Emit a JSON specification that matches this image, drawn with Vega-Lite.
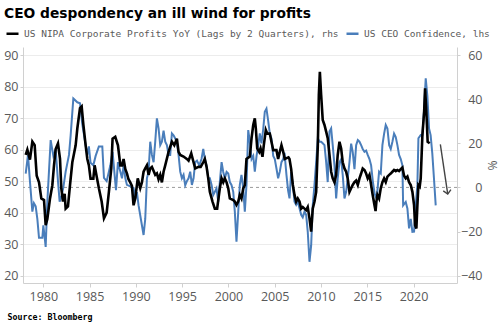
{
  "$schema": "https://vega.github.io/schema/vega-lite/v6.json",
  "width": 434,
  "height": 236,
  "autosize": {"type": "none"},
  "padding": {"left": 23, "top": 47, "right": 43, "bottom": 45},
  "background": "white",
  "title": {
    "text": "CEO despondency an ill wind for profits",
    "anchor": "start",
    "frame": "group",
    "font": "DejaVu Sans",
    "fontWeight": "bold",
    "fontSize": 13.8,
    "color": "#000000",
    "dx": -19,
    "offset": 5
  },
  "config": {
    "view": {"stroke": null},
    "axis": {
      "labelFont": "Open Sans",
      "labelFontSize": 12.5,
      "labelColor": "#595959",
      "domainColor": "#d0d0d0",
      "tickColor": "#d0d0d0",
      "gridColor": "#ececec",
      "titleFont": "Open Sans",
      "titleColor": "#595959",
      "titleFontWeight": "normal"
    },
    "legend": {
      "labelFont": "DejaVu Sans Mono",
      "labelFontSize": 9.5,
      "labelColor": "#595959",
      "labelLimit": 500
    }
  },
  "datasets": {
    "ceo": [
      {"t": 1978.09, "v": 52.4}, {"t": 1978.34, "v": 58.3}, {"t": 1978.55, "v": 50}, {"t": 1978.81, "v": 40.3},
      {"t": 1978.98, "v": 43}, {"t": 1979.17, "v": 42}, {"t": 1979.35, "v": 38}, {"t": 1979.53, "v": 32},
      {"t": 1979.89, "v": 32}, {"t": 1980.0, "v": 36}, {"t": 1980.25, "v": 29.1}, {"t": 1980.43, "v": 43.5},
      {"t": 1980.79, "v": 63}, {"t": 1981.08, "v": 58}, {"t": 1981.33, "v": 60}, {"t": 1981.58, "v": 50},
      {"t": 1981.76, "v": 43.5}, {"t": 1981.94, "v": 45}, {"t": 1982.16, "v": 48}, {"t": 1982.41, "v": 53},
      {"t": 1982.77, "v": 58.3}, {"t": 1982.95, "v": 64.5}, {"t": 1983.24, "v": 76.2}, {"t": 1983.67, "v": 75},
      {"t": 1983.96, "v": 74.7}, {"t": 1984.21, "v": 68}, {"t": 1984.57, "v": 61.4}, {"t": 1984.75, "v": 58.3},
      {"t": 1984.92, "v": 61}, {"t": 1985.1, "v": 55.8}, {"t": 1985.4, "v": 55}, {"t": 1985.65, "v": 58},
      {"t": 1986.0, "v": 61}, {"t": 1986.37, "v": 61}, {"t": 1986.55, "v": 51}, {"t": 1986.84, "v": 50},
      {"t": 1987.08, "v": 53}, {"t": 1987.24, "v": 55}, {"t": 1987.48, "v": 59.3}, {"t": 1987.7, "v": 52},
      {"t": 1987.85, "v": 47.1}, {"t": 1988.06, "v": 56}, {"t": 1988.32, "v": 53}, {"t": 1988.5, "v": 50.9},
      {"t": 1988.67, "v": 55}, {"t": 1988.86, "v": 50.9}, {"t": 1989.03, "v": 48.8}, {"t": 1989.39, "v": 48.3},
      {"t": 1989.75, "v": 47.8}, {"t": 1989.93, "v": 44.5}, {"t": 1990.11, "v": 46.5}, {"t": 1990.29, "v": 42.3},
      {"t": 1990.65, "v": 36}, {"t": 1990.83, "v": 32.9}, {"t": 1991.01, "v": 38}, {"t": 1991.19, "v": 50.9},
      {"t": 1991.37, "v": 53}, {"t": 1991.55, "v": 62.5}, {"t": 1991.73, "v": 58.3}, {"t": 1991.91, "v": 56},
      {"t": 1992.09, "v": 62.5}, {"t": 1992.27, "v": 69.9}, {"t": 1992.45, "v": 66.7}, {"t": 1992.63, "v": 61.4},
      {"t": 1992.81, "v": 62.5}, {"t": 1992.99, "v": 66}, {"t": 1993.17, "v": 62.5}, {"t": 1993.35, "v": 61.4},
      {"t": 1993.53, "v": 58.3}, {"t": 1993.71, "v": 58.3}, {"t": 1993.89, "v": 65.1}, {"t": 1994.07, "v": 64.5},
      {"t": 1994.25, "v": 63.5}, {"t": 1994.43, "v": 62.5}, {"t": 1994.61, "v": 58.3}, {"t": 1994.79, "v": 53},
      {"t": 1994.97, "v": 50.9}, {"t": 1995.15, "v": 52}, {"t": 1995.33, "v": 48.7}, {"t": 1995.51, "v": 50},
      {"t": 1995.69, "v": 50.9}, {"t": 1995.87, "v": 53}, {"t": 1996.05, "v": 48.8}, {"t": 1996.23, "v": 50.9},
      {"t": 1996.41, "v": 56}, {"t": 1996.6, "v": 56.5}, {"t": 1996.85, "v": 55}, {"t": 1997.09, "v": 57},
      {"t": 1997.28, "v": 60.2}, {"t": 1997.45, "v": 57}, {"t": 1997.64, "v": 55}, {"t": 1997.82, "v": 50.9},
      {"t": 1997.99, "v": 50.9}, {"t": 1998.18, "v": 48.8}, {"t": 1998.36, "v": 45.6}, {"t": 1998.53, "v": 46.6},
      {"t": 1998.71, "v": 47.7}, {"t": 1998.9, "v": 43.5}, {"t": 1999.07, "v": 49.7}, {"t": 1999.26, "v": 56},
      {"t": 1999.44, "v": 52.9}, {"t": 1999.61, "v": 50.9}, {"t": 1999.8, "v": 52.9}, {"t": 1999.98, "v": 52.4},
      {"t": 2000.15, "v": 49.7}, {"t": 2000.33, "v": 48.8}, {"t": 2000.52, "v": 46.6}, {"t": 2000.69, "v": 40.3},
      {"t": 2000.87, "v": 30.8}, {"t": 2001.06, "v": 40.3}, {"t": 2001.23, "v": 48.8}, {"t": 2001.41, "v": 52},
      {"t": 2001.6, "v": 47.7}, {"t": 2001.77, "v": 40.3}, {"t": 2001.95, "v": 48.8}, {"t": 2002.14, "v": 66.2},
      {"t": 2002.31, "v": 62.5}, {"t": 2002.5, "v": 57}, {"t": 2002.68, "v": 58}, {"t": 2002.85, "v": 53},
      {"t": 2003.04, "v": 58}, {"t": 2003.22, "v": 61.4}, {"t": 2003.39, "v": 65.1}, {"t": 2003.57, "v": 62},
      {"t": 2003.76, "v": 66.5}, {"t": 2003.93, "v": 72}, {"t": 2004.11, "v": 73}, {"t": 2004.3, "v": 69},
      {"t": 2004.47, "v": 65.1}, {"t": 2004.65, "v": 63.5}, {"t": 2004.84, "v": 58}, {"t": 2005.01, "v": 57},
      {"t": 2005.19, "v": 54}, {"t": 2005.37, "v": 50.9}, {"t": 2005.55, "v": 53}, {"t": 2005.73, "v": 56},
      {"t": 2005.92, "v": 57}, {"t": 2006.06, "v": 59}, {"t": 2006.27, "v": 52}, {"t": 2006.45, "v": 47},
      {"t": 2006.6, "v": 44.5}, {"t": 2006.78, "v": 52.9}, {"t": 2006.96, "v": 48.8}, {"t": 2007.14, "v": 43.5},
      {"t": 2007.32, "v": 42.5}, {"t": 2007.49, "v": 43.5}, {"t": 2007.68, "v": 41.4}, {"t": 2007.86, "v": 39.3},
      {"t": 2008.03, "v": 38.5}, {"t": 2008.22, "v": 40.3}, {"t": 2008.4, "v": 39.3}, {"t": 2008.57, "v": 34},
      {"t": 2008.76, "v": 24.4}, {"t": 2008.94, "v": 29.6}, {"t": 2009.11, "v": 42.3}, {"t": 2009.3, "v": 48.8},
      {"t": 2009.48, "v": 56}, {"t": 2009.66, "v": 63.6}, {"t": 2009.84, "v": 62.5}, {"t": 2010.02, "v": 62.5},
      {"t": 2010.19, "v": 62}, {"t": 2010.38, "v": 61.4}, {"t": 2010.56, "v": 56}, {"t": 2010.73, "v": 49.7},
      {"t": 2010.92, "v": 65.7}, {"t": 2011.1, "v": 66.7}, {"t": 2011.27, "v": 61.4}, {"t": 2011.46, "v": 54.9},
      {"t": 2011.64, "v": 44.5}, {"t": 2011.81, "v": 50.9}, {"t": 2012.0, "v": 56}, {"t": 2012.18, "v": 57},
      {"t": 2012.35, "v": 52}, {"t": 2012.54, "v": 44.5}, {"t": 2012.72, "v": 46.6}, {"t": 2012.89, "v": 50.9},
      {"t": 2013.08, "v": 56}, {"t": 2013.26, "v": 61.9}, {"t": 2013.43, "v": 59.3}, {"t": 2013.62, "v": 53.8},
      {"t": 2013.8, "v": 61.4}, {"t": 2013.98, "v": 63}, {"t": 2014.16, "v": 62.5}, {"t": 2014.34, "v": 61.4},
      {"t": 2014.51, "v": 60.2}, {"t": 2014.7, "v": 59.3}, {"t": 2014.88, "v": 59.7}, {"t": 2015.05, "v": 58.3},
      {"t": 2015.24, "v": 57}, {"t": 2015.42, "v": 55}, {"t": 2015.6, "v": 50}, {"t": 2015.8, "v": 46},
      {"t": 2016.0, "v": 44.5}, {"t": 2016.1, "v": 47}, {"t": 2016.28, "v": 53}, {"t": 2016.46, "v": 52.4},
      {"t": 2016.64, "v": 61.4}, {"t": 2016.82, "v": 65}, {"t": 2017.0, "v": 67.8}, {"t": 2017.18, "v": 66.7},
      {"t": 2017.37, "v": 61.4}, {"t": 2017.54, "v": 60.2}, {"t": 2017.72, "v": 62.5}, {"t": 2017.9, "v": 65.1},
      {"t": 2018.08, "v": 64}, {"t": 2018.26, "v": 61.4}, {"t": 2018.44, "v": 58.3}, {"t": 2018.62, "v": 57},
      {"t": 2018.8, "v": 55}, {"t": 2018.88, "v": 42.3}, {"t": 2019.16, "v": 43.4}, {"t": 2019.34, "v": 41.3},
      {"t": 2019.52, "v": 35}, {"t": 2019.7, "v": 38}, {"t": 2019.88, "v": 33.9}, {"t": 2020.06, "v": 34},
      {"t": 2020.24, "v": 42.3}, {"t": 2020.42, "v": 48.8}, {"t": 2020.53, "v": 63.6}, {"t": 2020.78, "v": 64.6},
      {"t": 2020.96, "v": 64.6}, {"t": 2021.15, "v": 73.1}, {"t": 2021.32, "v": 82.6}, {"t": 2021.5, "v": 77},
      {"t": 2021.68, "v": 66.7}, {"t": 2021.85, "v": 64.6}, {"t": 2022.03, "v": 58.8}, {"t": 2022.21, "v": 50.9},
      {"t": 2022.4, "v": 42.3}
    ],
    "profits": [
      {"t": 1978.09, "v": 14.7}, {"t": 1978.27, "v": 17.1}, {"t": 1978.55, "v": 12.6}, {"t": 1978.81, "v": 20.7},
      {"t": 1979.06, "v": 19.1}, {"t": 1979.28, "v": 5.3}, {"t": 1979.53, "v": 2.3}, {"t": 1979.78, "v": -5},
      {"t": 1980.07, "v": -5.7}, {"t": 1980.25, "v": -17.1}, {"t": 1980.43, "v": -14.3}, {"t": 1980.72, "v": -5},
      {"t": 1980.97, "v": 1}, {"t": 1981.15, "v": 10}, {"t": 1981.33, "v": 17.4}, {"t": 1981.58, "v": 19.9},
      {"t": 1981.8, "v": 12.9}, {"t": 1981.94, "v": -0.4}, {"t": 1982.12, "v": -6.4}, {"t": 1982.3, "v": -2.9},
      {"t": 1982.41, "v": -9.6}, {"t": 1982.66, "v": -8.6}, {"t": 1982.88, "v": 1}, {"t": 1983.13, "v": 11.4},
      {"t": 1983.49, "v": 19.1}, {"t": 1983.67, "v": 26.7}, {"t": 1983.96, "v": 35.9}, {"t": 1984.14, "v": 36.7},
      {"t": 1984.32, "v": 28.6}, {"t": 1984.57, "v": 19.1}, {"t": 1984.75, "v": 12.9}, {"t": 1984.92, "v": 10},
      {"t": 1985.1, "v": 4}, {"t": 1985.4, "v": 4}, {"t": 1985.54, "v": 10}, {"t": 1985.76, "v": 5},
      {"t": 1986.0, "v": -0.4}, {"t": 1986.3, "v": -6.4}, {"t": 1986.55, "v": -14}, {"t": 1986.84, "v": -11.4},
      {"t": 1987.08, "v": -2.1}, {"t": 1987.34, "v": 8.6}, {"t": 1987.48, "v": 22.1}, {"t": 1987.77, "v": 22.9},
      {"t": 1988.06, "v": 19.1}, {"t": 1988.32, "v": 10}, {"t": 1988.5, "v": 10}, {"t": 1988.67, "v": 12.9},
      {"t": 1988.86, "v": 8.3}, {"t": 1989.03, "v": 6.4}, {"t": 1989.2, "v": 3.7}, {"t": 1989.39, "v": 2.3},
      {"t": 1989.57, "v": 0.7}, {"t": 1989.75, "v": -8.1}, {"t": 1989.93, "v": -5}, {"t": 1990.2, "v": 4.1},
      {"t": 1990.47, "v": -0.3}, {"t": 1990.65, "v": 2.3}, {"t": 1990.83, "v": 7.1}, {"t": 1991.01, "v": 8.6},
      {"t": 1991.19, "v": 10}, {"t": 1991.37, "v": 5.7}, {"t": 1991.55, "v": 8.6}, {"t": 1991.73, "v": 9.3},
      {"t": 1992.09, "v": 5.7}, {"t": 1992.27, "v": 6.4}, {"t": 1992.45, "v": 3.7}, {"t": 1992.63, "v": 5.7},
      {"t": 1992.81, "v": 2.3}, {"t": 1992.99, "v": 7.1}, {"t": 1993.17, "v": 10}, {"t": 1993.53, "v": 16.1},
      {"t": 1993.89, "v": 20.7}, {"t": 1994.15, "v": 19.1}, {"t": 1994.43, "v": 22.1}, {"t": 1994.61, "v": 16.1},
      {"t": 1994.79, "v": 14.7}, {"t": 1995.15, "v": 14}, {"t": 1995.5, "v": 12.9}, {"t": 1995.69, "v": 12.1},
      {"t": 1995.98, "v": 15.4}, {"t": 1996.23, "v": 11.4}, {"t": 1996.41, "v": 8.6}, {"t": 1996.77, "v": 9.3},
      {"t": 1997.0, "v": 9.3}, {"t": 1997.28, "v": 11.4}, {"t": 1997.45, "v": 12.9}, {"t": 1997.64, "v": 9.3},
      {"t": 1997.82, "v": 4.1}, {"t": 1997.99, "v": -2}, {"t": 1998.28, "v": -6.4}, {"t": 1998.53, "v": -9.6},
      {"t": 1998.78, "v": -9.6}, {"t": 1999.07, "v": -0.4}, {"t": 1999.26, "v": 4.1}, {"t": 1999.44, "v": 2.3},
      {"t": 1999.61, "v": 4.1}, {"t": 1999.8, "v": 2.3}, {"t": 1999.98, "v": -0.4}, {"t": 2000.15, "v": -5},
      {"t": 2000.52, "v": -5.7}, {"t": 2000.69, "v": -6.4}, {"t": 2000.87, "v": -7.9}, {"t": 2001.06, "v": -6.4},
      {"t": 2001.23, "v": -3.4}, {"t": 2001.41, "v": -5}, {"t": 2001.6, "v": -0.4}, {"t": 2001.77, "v": 1},
      {"t": 2001.95, "v": 12.9}, {"t": 2002.31, "v": 14}, {"t": 2002.5, "v": 22.3}, {"t": 2002.68, "v": 28.3},
      {"t": 2002.85, "v": 31.3}, {"t": 2002.96, "v": 26.7}, {"t": 2003.11, "v": 17.7}, {"t": 2003.33, "v": 16.1},
      {"t": 2003.47, "v": 17.7}, {"t": 2003.68, "v": 13.9}, {"t": 2003.82, "v": 19.1}, {"t": 2004.04, "v": 26},
      {"t": 2004.19, "v": 24.4}, {"t": 2004.47, "v": 24.4}, {"t": 2004.65, "v": 20.7}, {"t": 2004.84, "v": 16.9},
      {"t": 2005.19, "v": 16.9}, {"t": 2005.37, "v": 12.9}, {"t": 2005.55, "v": 16.1}, {"t": 2005.73, "v": 19.1},
      {"t": 2005.92, "v": 16.1}, {"t": 2006.09, "v": 12.9}, {"t": 2006.49, "v": 13.6}, {"t": 2006.6, "v": 12.9},
      {"t": 2006.78, "v": 8.3}, {"t": 2006.96, "v": 1.1}, {"t": 2007.14, "v": -3.4}, {"t": 2007.32, "v": -6.4},
      {"t": 2007.49, "v": -5}, {"t": 2007.68, "v": -6.4}, {"t": 2007.86, "v": -9.6}, {"t": 2008.03, "v": -8.9},
      {"t": 2008.22, "v": -9.6}, {"t": 2008.4, "v": -10.3}, {"t": 2008.57, "v": -8.9}, {"t": 2008.76, "v": -14},
      {"t": 2008.94, "v": -20}, {"t": 2009.11, "v": -9.6}, {"t": 2009.3, "v": -6.4}, {"t": 2009.48, "v": -2},
      {"t": 2009.66, "v": 19.1}, {"t": 2009.77, "v": 41.9}, {"t": 2009.88, "v": 52.4}, {"t": 2010.02, "v": 41.9},
      {"t": 2010.19, "v": 30.6}, {"t": 2010.38, "v": 28.3}, {"t": 2010.56, "v": 25.3}, {"t": 2010.73, "v": 22.3},
      {"t": 2010.92, "v": 14.7}, {"t": 2011.1, "v": 7.1}, {"t": 2011.27, "v": 4.1}, {"t": 2011.46, "v": 2.3},
      {"t": 2011.64, "v": 5.7}, {"t": 2011.81, "v": 14.7}, {"t": 2012.0, "v": 20.7}, {"t": 2012.18, "v": 17.7},
      {"t": 2012.35, "v": 11.4}, {"t": 2012.54, "v": 8.6}, {"t": 2012.72, "v": 7.1}, {"t": 2012.89, "v": 4.1},
      {"t": 2013.08, "v": -2}, {"t": 2013.26, "v": -0.4}, {"t": 2013.43, "v": 1.1}, {"t": 2013.62, "v": 2.4},
      {"t": 2013.8, "v": 3.1}, {"t": 2013.98, "v": 1.1}, {"t": 2014.16, "v": 4.1}, {"t": 2014.34, "v": 6.3},
      {"t": 2014.51, "v": 8.6}, {"t": 2014.7, "v": 7.9}, {"t": 2014.88, "v": 6.3}, {"t": 2015.05, "v": 4.1},
      {"t": 2015.24, "v": 5.7}, {"t": 2015.42, "v": 1.1}, {"t": 2015.59, "v": -3.4}, {"t": 2015.78, "v": -8},
      {"t": 2015.9, "v": -10.7}, {"t": 2015.99, "v": -6.4}, {"t": 2016.1, "v": -3.4}, {"t": 2016.28, "v": -5},
      {"t": 2016.46, "v": -0.4}, {"t": 2016.64, "v": 2.4}, {"t": 2016.82, "v": 4.1}, {"t": 2017.0, "v": 2.4},
      {"t": 2017.18, "v": 4.9}, {"t": 2017.37, "v": 5.7}, {"t": 2017.54, "v": 6.3}, {"t": 2017.72, "v": 7.1},
      {"t": 2017.9, "v": 7.9}, {"t": 2018.08, "v": 7.4}, {"t": 2018.26, "v": 7.9}, {"t": 2018.44, "v": 7.4},
      {"t": 2018.62, "v": 8.3}, {"t": 2018.8, "v": 9}, {"t": 2018.98, "v": 5.3}, {"t": 2019.16, "v": 4.1},
      {"t": 2019.34, "v": 4.9}, {"t": 2019.52, "v": 2.4}, {"t": 2019.7, "v": 1.1}, {"t": 2019.88, "v": -2},
      {"t": 2020.06, "v": -8}, {"t": 2020.17, "v": -17.1}, {"t": 2020.31, "v": -18.6}, {"t": 2020.42, "v": -8.1},
      {"t": 2020.53, "v": 1.1}, {"t": 2020.67, "v": 0.4}, {"t": 2020.78, "v": 4.1}, {"t": 2020.96, "v": 23.7},
      {"t": 2021.15, "v": 34.3}, {"t": 2021.25, "v": 44.9}, {"t": 2021.39, "v": 34.3}, {"t": 2021.53, "v": 20.7},
      {"t": 2021.75, "v": 20}
    ],
    "arrow": [{"t": 2022.9, "v": 19.5, "t2": 2023.7, "v2": -3}]
  },
  "layer": [
    {
      "layer": [
        {
          "mark": {"type": "rule", "stroke": "#9a9a9a", "strokeWidth": 1, "strokeDash": [3, 3]},
          "data": {"values": [{"z": 48}]},
          "encoding": {
            "y": {"field": "z", "type": "quantitative", "scale": {"domain": [17.68, 92.54], "nice": false, "zero": false},
              "axis": {"orient": "left", "values": [20, 30, 40, 50, 60, 70, 80, 90], "grid": true, "title": null, "tickSize": 3, "labelPadding": 2, "domain": true}}
          }
        },
        {
          "data": {"name": "ceo"},
          "mark": {"type": "line", "strokeWidth": 2, "clip": true},
          "encoding": {
            "x": {"field": "t", "type": "quantitative", "scale": {"domain": [1977.8, 2024.7], "nice": false, "zero": false},
              "axis": {"values": [1980, 1985, 1990, 1995, 2000, 2005, 2010, 2015, 2020], "format": "d", "grid": false, "tickSize": 4, "labelPadding": 3,
                "title": "Source: Bloomberg", "titleFont": "DejaVu Sans Mono", "titleFontWeight": "bold", "titleFontSize": 8.3, "titleColor": "#000000",
                "titleAnchor": "start", "titleAlign": "left", "titleBaseline": "alphabetic", "titleX": -16, "titleY": 36.5}},
            "y": {"field": "v", "type": "quantitative", "scale": {"domain": [17.68, 92.54], "nice": false, "zero": false},
              "axis": {"orient": "left", "values": [20, 30, 40, 50, 60, 70, 80, 90], "grid": true, "title": null, "tickSize": 3, "labelPadding": 2, "domain": true}},
            "color": {"datum": "US CEO Confidence, lhs", "type": "nominal",
              "scale": {"domain": ["US NIPA Corporate Profits YoY (Lags by 2 Quarters), rhs", "US CEO Confidence, lhs"], "range": ["#000000", "#4a7ebb"]},
              "legend": {"orient": "none", "direction": "horizontal", "legendX": -18, "legendY": -21, "title": null, "symbolType": "stroke", "symbolSize": 144, "symbolStrokeWidth": 2.5, "labelOffset": 4, "columnPadding": 2, "padding": 0}}
          }
        }
      ]
    },
    {
      "layer": [
        {
          "data": {"name": "profits"},
          "mark": {"type": "line", "strokeWidth": 2.6, "clip": true},
          "encoding": {
            "x": {"field": "t", "type": "quantitative"},
            "y": {"field": "v", "type": "quantitative", "scale": {"domain": [-43.31, 63.63], "nice": false, "zero": false},
              "axis": {"orient": "right", "values": [-40, -30, -20, -10, 0, 10, 20, 30, 40, 50, 60], "grid": false, "title": "%", "titleAngle": 90, "titleFontSize": 12, "titleX": 34, "titleY": 118, "titleAlign": "center", "titleBaseline": "middle", "tickSize": 3, "labelAlign": "right", "labelPadding": 22, "domain": true}},
            "color": {"datum": "US NIPA Corporate Profits YoY (Lags by 2 Quarters), rhs", "type": "nominal"}
          }
        },
        {
          "data": {"name": "arrow"},
          "mark": {"type": "rule", "stroke": "#444444", "strokeWidth": 1.4},
          "encoding": {
            "x": {"field": "t", "type": "quantitative"},
            "y": {"field": "v", "type": "quantitative"},
            "x2": {"field": "t2"},
            "y2": {"field": "v2"}
          }
        },
        {
          "data": {"name": "arrow"},
          "mark": {"type": "point", "shape": "M-1,-1L0,0L1,-1", "filled": false, "stroke": "#444444", "strokeWidth": 1.4, "size": 60, "angle": -10, "opacity": 1},
          "encoding": {
            "x": {"field": "t2", "type": "quantitative"},
            "y": {"field": "v2", "type": "quantitative"}
          }
        }
      ]
    }
  ],
  "resolve": {"scale": {"y": "independent"}}
}
